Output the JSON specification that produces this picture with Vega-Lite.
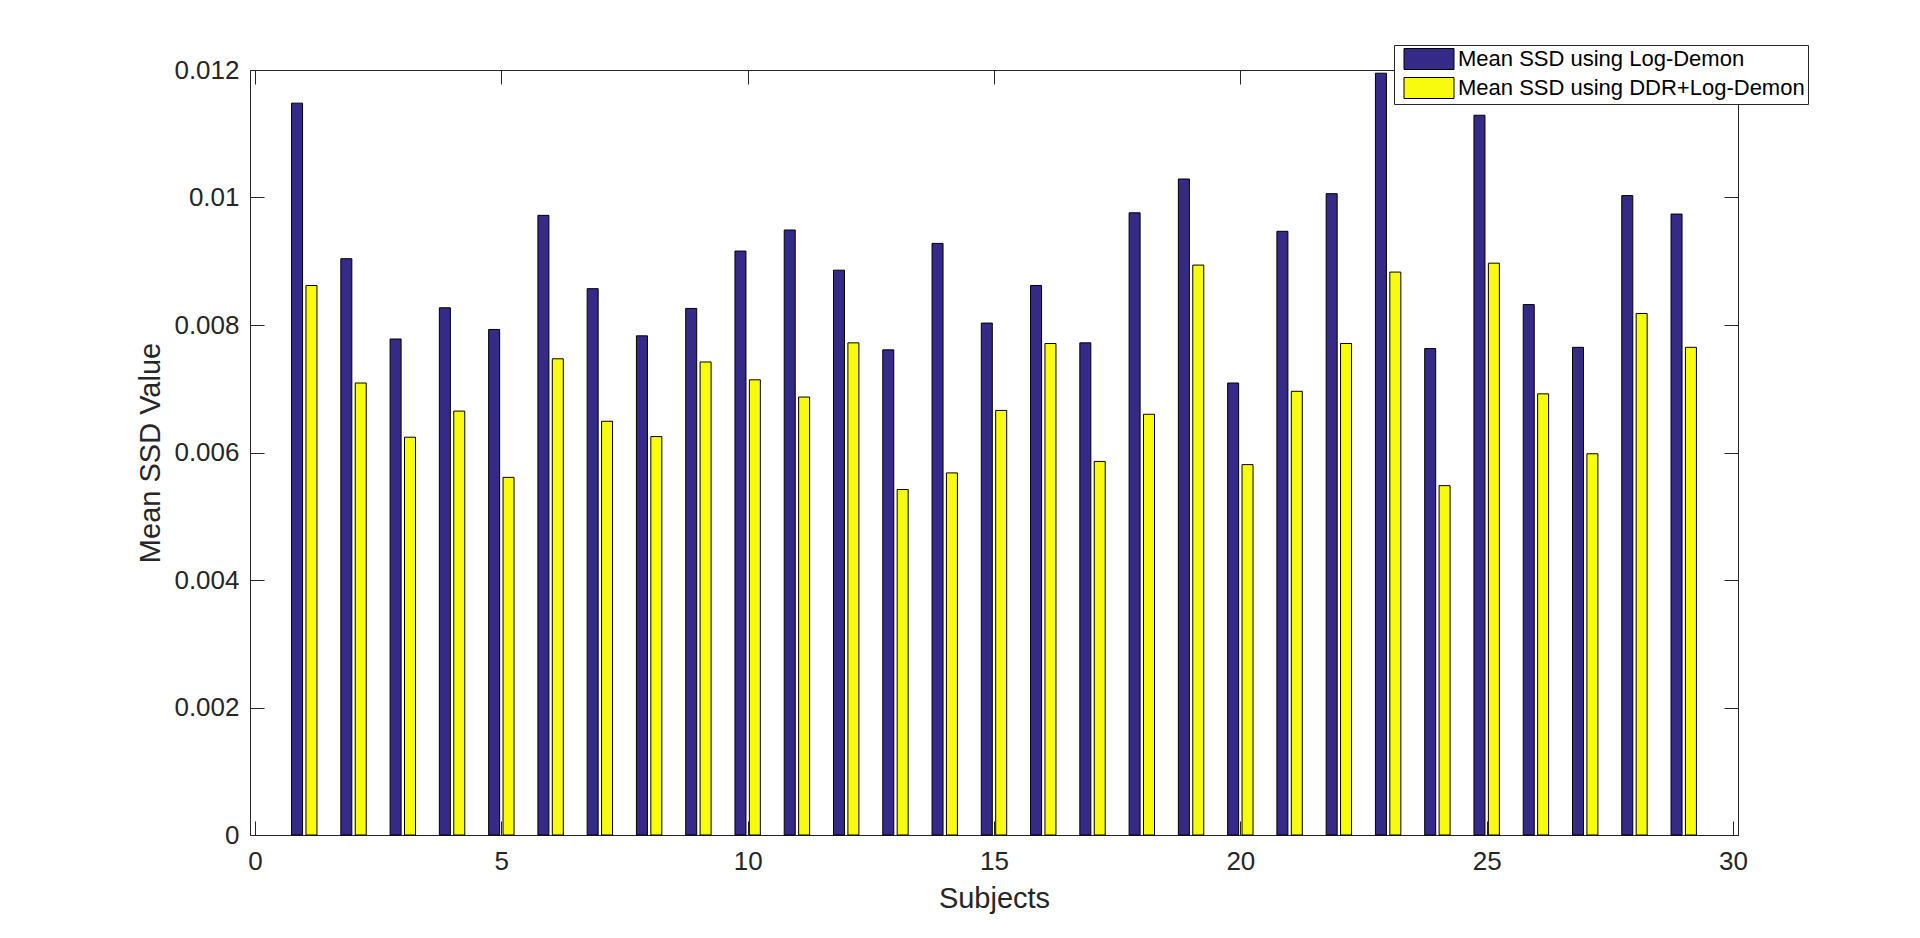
{
  "$schema": "https://vega.github.io/schema/vega-lite/v6.json",
  "width": 1488,
  "height": 765,
  "autosize": {"type": "none"},
  "padding": {"left": 250, "top": 70, "right": 182, "bottom": 103},
  "background": "white",
  "config": {
    "view": {"stroke": null},
    "font": "Liberation Sans",
    "axis": {
      "domainColor": "#262626",
      "tickColor": "#262626",
      "labelColor": "#262626",
      "titleColor": "#262626",
      "labelFont": "Liberation Sans",
      "titleFont": "Liberation Sans",
      "labelFontSize": 26,
      "titleFontSize": 29,
      "titleFontWeight": "normal",
      "grid": false,
      "tickSize": -14,
      "domainWidth": 1,
      "tickWidth": 1
    },
    "legend": {
      "labelFont": "Liberation Sans",
      "labelFontSize": 22,
      "labelColor": "#000000",
      "labelLimit": 0
    }
  },
  "data": {
    "values": [
      {"subject": 1, "method": "Mean SSD using Log-Demon", "value": 0.01148},
      {"subject": 2, "method": "Mean SSD using Log-Demon", "value": 0.00904},
      {"subject": 3, "method": "Mean SSD using Log-Demon", "value": 0.00778},
      {"subject": 4, "method": "Mean SSD using Log-Demon", "value": 0.00827},
      {"subject": 5, "method": "Mean SSD using Log-Demon", "value": 0.00793},
      {"subject": 6, "method": "Mean SSD using Log-Demon", "value": 0.00972},
      {"subject": 7, "method": "Mean SSD using Log-Demon", "value": 0.00857},
      {"subject": 8, "method": "Mean SSD using Log-Demon", "value": 0.00783},
      {"subject": 9, "method": "Mean SSD using Log-Demon", "value": 0.00826},
      {"subject": 10, "method": "Mean SSD using Log-Demon", "value": 0.00916},
      {"subject": 11, "method": "Mean SSD using Log-Demon", "value": 0.00949},
      {"subject": 12, "method": "Mean SSD using Log-Demon", "value": 0.00886},
      {"subject": 13, "method": "Mean SSD using Log-Demon", "value": 0.00761},
      {"subject": 14, "method": "Mean SSD using Log-Demon", "value": 0.00928},
      {"subject": 15, "method": "Mean SSD using Log-Demon", "value": 0.00803},
      {"subject": 16, "method": "Mean SSD using Log-Demon", "value": 0.00862},
      {"subject": 17, "method": "Mean SSD using Log-Demon", "value": 0.00772},
      {"subject": 18, "method": "Mean SSD using Log-Demon", "value": 0.00976},
      {"subject": 19, "method": "Mean SSD using Log-Demon", "value": 0.01029},
      {"subject": 20, "method": "Mean SSD using Log-Demon", "value": 0.00709},
      {"subject": 21, "method": "Mean SSD using Log-Demon", "value": 0.00947},
      {"subject": 22, "method": "Mean SSD using Log-Demon", "value": 0.01006},
      {"subject": 23, "method": "Mean SSD using Log-Demon", "value": 0.01195},
      {"subject": 24, "method": "Mean SSD using Log-Demon", "value": 0.00763},
      {"subject": 25, "method": "Mean SSD using Log-Demon", "value": 0.01129},
      {"subject": 26, "method": "Mean SSD using Log-Demon", "value": 0.00832},
      {"subject": 27, "method": "Mean SSD using Log-Demon", "value": 0.00765},
      {"subject": 28, "method": "Mean SSD using Log-Demon", "value": 0.01003},
      {"subject": 29, "method": "Mean SSD using Log-Demon", "value": 0.00974},
      {"subject": 1, "method": "Mean SSD using DDR+Log-Demon", "value": 0.00862},
      {"subject": 2, "method": "Mean SSD using DDR+Log-Demon", "value": 0.00709},
      {"subject": 3, "method": "Mean SSD using DDR+Log-Demon", "value": 0.00624},
      {"subject": 4, "method": "Mean SSD using DDR+Log-Demon", "value": 0.00665},
      {"subject": 5, "method": "Mean SSD using DDR+Log-Demon", "value": 0.00561},
      {"subject": 6, "method": "Mean SSD using DDR+Log-Demon", "value": 0.00747},
      {"subject": 7, "method": "Mean SSD using DDR+Log-Demon", "value": 0.00649},
      {"subject": 8, "method": "Mean SSD using DDR+Log-Demon", "value": 0.00625},
      {"subject": 9, "method": "Mean SSD using DDR+Log-Demon", "value": 0.00742},
      {"subject": 10, "method": "Mean SSD using DDR+Log-Demon", "value": 0.00714},
      {"subject": 11, "method": "Mean SSD using DDR+Log-Demon", "value": 0.00687},
      {"subject": 12, "method": "Mean SSD using DDR+Log-Demon", "value": 0.00772},
      {"subject": 13, "method": "Mean SSD using DDR+Log-Demon", "value": 0.00542},
      {"subject": 14, "method": "Mean SSD using DDR+Log-Demon", "value": 0.00568},
      {"subject": 15, "method": "Mean SSD using DDR+Log-Demon", "value": 0.00666},
      {"subject": 16, "method": "Mean SSD using DDR+Log-Demon", "value": 0.00771},
      {"subject": 17, "method": "Mean SSD using DDR+Log-Demon", "value": 0.00586},
      {"subject": 18, "method": "Mean SSD using DDR+Log-Demon", "value": 0.00660},
      {"subject": 19, "method": "Mean SSD using DDR+Log-Demon", "value": 0.00894},
      {"subject": 20, "method": "Mean SSD using DDR+Log-Demon", "value": 0.00581},
      {"subject": 21, "method": "Mean SSD using DDR+Log-Demon", "value": 0.00696},
      {"subject": 22, "method": "Mean SSD using DDR+Log-Demon", "value": 0.00771},
      {"subject": 23, "method": "Mean SSD using DDR+Log-Demon", "value": 0.00883},
      {"subject": 24, "method": "Mean SSD using DDR+Log-Demon", "value": 0.00548},
      {"subject": 25, "method": "Mean SSD using DDR+Log-Demon", "value": 0.00897},
      {"subject": 26, "method": "Mean SSD using DDR+Log-Demon", "value": 0.00692},
      {"subject": 27, "method": "Mean SSD using DDR+Log-Demon", "value": 0.00598},
      {"subject": 28, "method": "Mean SSD using DDR+Log-Demon", "value": 0.00818},
      {"subject": 29, "method": "Mean SSD using DDR+Log-Demon", "value": 0.00765}
    ]
  },
  "layer": [
    {
      "transform": [{"filter": "datum.method === 'Mean SSD using Log-Demon'"}],
      "mark": {"type": "bar", "width": 11, "xOffset": -7.2, "stroke": "#000000", "strokeWidth": 1},
      "encoding": {
        "x": {
          "field": "subject",
          "type": "quantitative",
          "title": "Subjects",
          "scale": {"domain": [0, 30], "nice": false, "zero": false},
          "axis": {
            "values": [0, 5, 10, 15, 20, 25, 30],
            "labelPadding": 27,
            "titlePadding": 10
          }
        },
        "y": {
          "field": "value",
          "type": "quantitative",
          "title": "Mean SSD Value",
          "scale": {"domain": [0, 0.012], "nice": false},
          "axis": {
            "values": [0, 0.002, 0.004, 0.006, 0.008, 0.01, 0.012],
            "format": "~g",
            "labelPadding": 25,
            "titlePadding": 8
          }
        },
        "color": {
          "field": "method",
          "type": "nominal",
          "scale": {
            "domain": ["Mean SSD using Log-Demon", "Mean SSD using DDR+Log-Demon"],
            "range": ["#352A87", "#F9FB0E"]
          },
          "legend": {
            "title": null,
            "orient": "none",
            "legendX": 1144,
            "legendY": -25,
            "fillColor": "white",
            "strokeColor": "#262626",
            "padding": 3,
            "symbolType": "M-0.8,-2.1H9.2V2.1H-0.8Z",
            "symbolSize": 100,
            "symbolStrokeColor": "#000000",
            "symbolStrokeWidth": 1,
            "symbolOpacity": 1,
            "labelOffset": 39,
            "rowPadding": 3
          }
        }
      }
    },
    {
      "transform": [{"filter": "datum.method === 'Mean SSD using DDR+Log-Demon'"}],
      "mark": {"type": "bar", "width": 11, "xOffset": 7.2, "stroke": "#000000", "strokeWidth": 1},
      "encoding": {
        "x": {
          "field": "subject",
          "type": "quantitative",
          "axis": {
            "orient": "top",
            "title": null,
            "labels": false,
            "values": [0, 5, 10, 15, 20, 25, 30]
          }
        },
        "y": {
          "field": "value",
          "type": "quantitative",
          "axis": {
            "orient": "right",
            "title": null,
            "labels": false,
            "values": [0, 0.002, 0.004, 0.006, 0.008, 0.01, 0.012]
          }
        },
        "color": {"field": "method", "type": "nominal"}
      }
    }
  ],
  "resolve": {"axis": {"x": "independent", "y": "independent"}}
}
